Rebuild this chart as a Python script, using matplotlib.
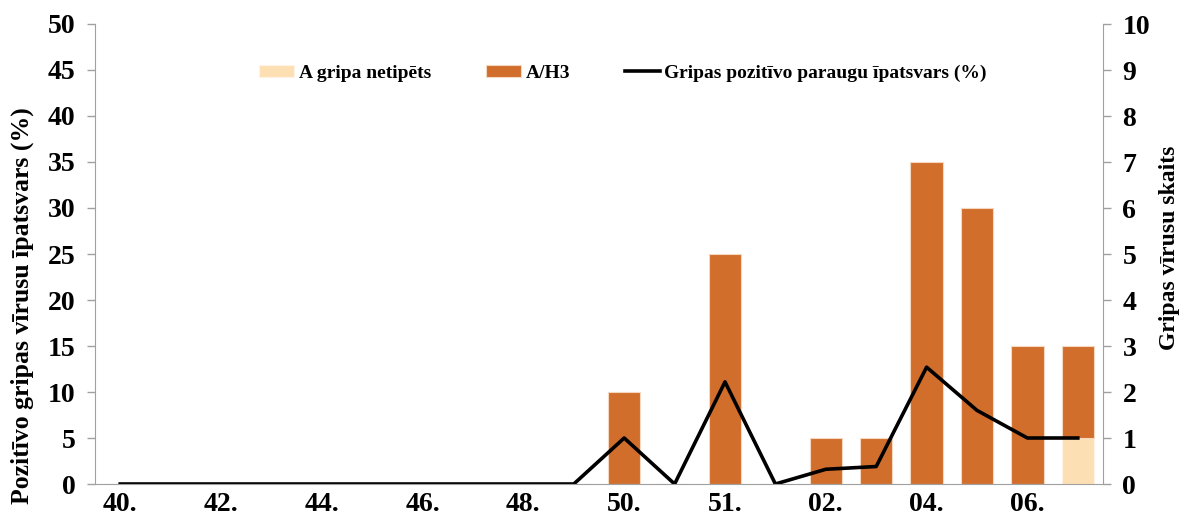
import numpy as np
import matplotlib
matplotlib.use("Agg")
from matplotlib import pyplot as plt

plt.rcParams['font.family'] = ['Liberation Serif', 'DejaVu Serif']
plt.rcParams['font.weight'] = 'bold'

# weeks (only every second label is shown on the axis)
weeks = ["40.", "41.", "42.", "43.", "44.", "45.", "46.", "47.", "48.", "49.",
         "50.", "50.", "51.", "01.", "02.", "03.", "04.", "05.", "06.", "07."]

# virus counts (right axis)
a_netipets = [0, 0, 0, 0, 0, 0, 0, 0, 0, 0, 0, 0, 0, 0, 0, 0, 0, 0, 0, 1]
a_h3 = [0, 0, 0, 0, 0, 0, 0, 0, 0, 0, 2, 0, 5, 0, 1, 1, 7, 6, 3, 2]

# share of positive samples, % (left axis)
pozitivo = [0, 0, 0, 0, 0, 0, 0, 0, 0, 0, 5.0, 0, 11.1, 0, 1.6, 1.9, 12.7, 8.0, 5.0, 5.0]

c_net = '#FDDFB4'
c_h3 = '#D26E2B'
grey = '#A0A0A0'

x = np.arange(len(weeks))

W, H = 1181, 524
fig = plt.figure(figsize=(W/100, H/100), dpi=100)
ax = fig.add_axes([95/W, 40/H, (1103-95)/W, (484-24)/H])
ax2 = ax.twinx()

# bars on the count axis, line on the percent axis
ax2.bar(x, a_netipets, width=0.64, color=c_net, edgecolor='#FFF3E6', linewidth=0.8,
        label='A gripa netipēts')
ax2.bar(x, a_h3, width=0.64, bottom=a_netipets, color=c_h3, edgecolor='#F5D8C0',
        linewidth=0.8, label='A/H3')
ax.set_zorder(ax2.get_zorder() + 1)
ax.patch.set_visible(False)
ax.plot(x, pozitivo, color='black', lw=2.6, label='Gripas pozitīvo paraugu īpatsvars (%)')

ax.set_xlim(-0.5, len(weeks) - 0.5)
ax.set_ylim(0, 50)
ax2.set_ylim(0, 10)
ax.set_yticks(np.arange(0, 51, 5))
ax2.set_yticks(np.arange(0, 11, 1))
ax.set_xticks(x[::2])
ax.set_xticklabels(weeks[::2])

for a in (ax, ax2):
    for s in a.spines.values():
        s.set_visible(False)
    a.tick_params(labelsize=20, width=1, color=grey, length=6)
ax.spines['left'].set_visible(True)
ax.spines['left'].set_color(grey)
ax.spines['bottom'].set_visible(True)
ax.spines['bottom'].set_color(grey)
ax2.spines['right'].set_visible(True)
ax2.spines['right'].set_color(grey)
ax.tick_params(axis='x', length=0, pad=6)
ax.tick_params(axis='y', pad=8)
ax2.tick_params(axis='y', pad=8)

# axis titles placed by hand, as in the original
fig.text(22/W, 1 - 306/H, 'Pozitīvo gripas vīrusu īpatsvars (%)', rotation=90,
         ha='center', va='center', fontsize=18.5, fontweight='bold')
fig.text(1170/W, 1 - 248/H, 'Gripas vīrusu skaits', rotation=90,
         ha='center', va='center', fontsize=17, fontweight='bold')

h1, l1 = ax2.get_legend_handles_labels()
h2, l2 = ax.get_legend_handles_labels()
fig.legend(h1 + h2, l1 + l2, ncol=3, frameon=False, loc='center',
           bbox_to_anchor=(623/W, 1 - 73/H), fontsize=14,
           handlelength=1.8, handleheight=0.55, handletextpad=0.25, columnspacing=2.8)

fig.savefig('out.png', dpi=100)
